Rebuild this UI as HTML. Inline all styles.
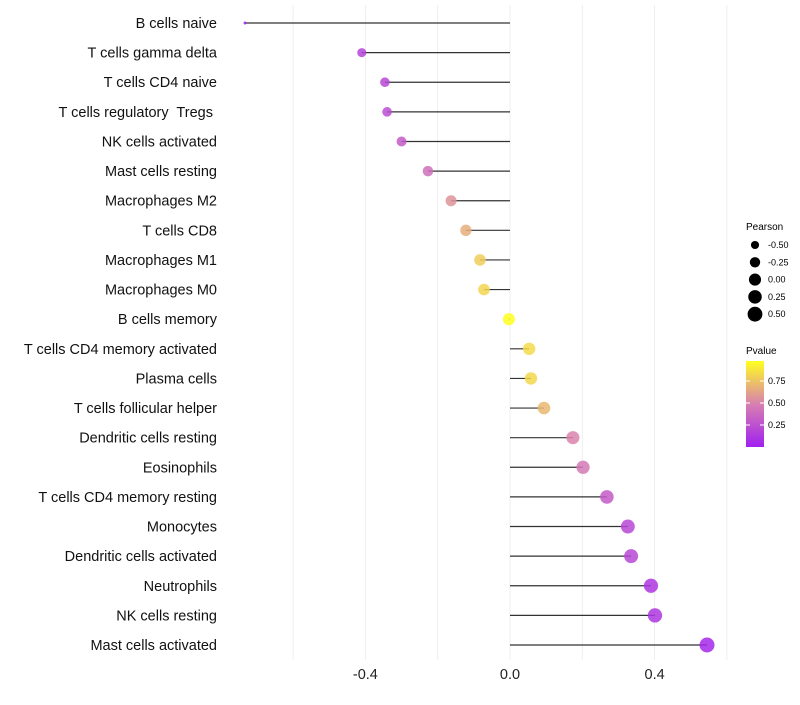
<!DOCTYPE html>
<html><head><meta charset="utf-8"><style>
body{margin:0;background:#fff;font-family:"Liberation Sans",sans-serif}
text{white-space:pre}
</style></head><body>
<svg id="chart" width="800" height="700" xmlns="http://www.w3.org/2000/svg">
<defs><linearGradient id="pg" x1="0" y1="1" x2="0" y2="0">
<stop offset="0" stop-color="#a020f0"/><stop offset="0.5" stop-color="#d880b0"/><stop offset="1" stop-color="#ffff20"/>
</linearGradient></defs>
<g id="grid"></g>
<g id="marks"></g>
<g id="labels"></g>
<g id="xt"></g>
<g font-size="9">
<text x="746" y="230" font-size="10">Pearson</text>
<g id="sizeLeg"></g>
</g>
<g font-size="9">
<text x="746" y="354" font-size="10">Pvalue</text>
<rect x="746" y="361" width="18" height="86" fill="url(#pg)"/>
<line x1="746" x2="750" y1="381" y2="381" stroke="#fff"/><line x1="760" x2="764" y1="381" y2="381" stroke="#fff"/>
<line x1="746" x2="750" y1="403" y2="403" stroke="#fff"/><line x1="760" x2="764" y1="403" y2="403" stroke="#fff"/>
<line x1="746" x2="750" y1="425" y2="425" stroke="#fff"/><line x1="760" x2="764" y1="425" y2="425" stroke="#fff"/>
<text x="768" y="384">0.75</text><text x="768" y="406">0.50</text><text x="768" y="428">0.25</text>
</g>
</svg>
<script>
const categories=["B cells naive","T cells gamma delta","T cells CD4 naive","T cells regulatory  Tregs ","NK cells activated","Mast cells resting","Macrophages M2","T cells CD8","Macrophages M1","Macrophages M0","B cells memory","T cells CD4 memory activated","Plasma cells","T cells follicular helper","Dendritic cells resting","Eosinophils","T cells CD4 memory resting","Monocytes","Dendritic cells activated","Neutrophils","NK cells resting","Mast cells activated"];
const pearson=[-0.733,-0.41,-0.346,-0.34,-0.30,-0.227,-0.163,-0.122,-0.083,-0.072,-0.003,0.053,0.058,0.094,0.174,0.202,0.268,0.326,0.335,0.39,0.401,0.545];
const pvalue=[0.04,0.2,0.22,0.25,0.32,0.42,0.58,0.68,0.8,0.83,0.99,0.85,0.84,0.72,0.52,0.47,0.32,0.22,0.22,0.13,0.13,0.06];
const xTicks=[-0.4,0.0,0.4];
const xTickLabels=["-0.4","0.0","0.4"];
const sizeLegendVals=[-0.5,-0.25,0,0.25,0.5];
const sizeLegendLabels=["-0.50","-0.25","0.00","0.25","0.50"];
const NS="http://www.w3.org/2000/svg";
const x=v=>510+v*361.5;
const y=i=>23+i*(645-23)/(categories.length-1);
const mn=Math.min(...pearson),mx=Math.max(...pearson);
const r=v=>1.5+6*Math.sqrt(Math.max(0,(v-mn)/(mx-mn)));
function lerp(a,b,t){return Math.round(a+(b-a)*t);}
function col(p){const t=Math.max(0,Math.min(1,(p-0.02)/0.97));
const c0=[160,32,240],c1=[216,128,176],c2=[255,255,32];
let a,b,u;if(t<0.5){a=c0;b=c1;u=t/0.5}else{a=c1;b=c2;u=(t-0.5)/0.5}
return `rgb(${lerp(a[0],b[0],u)},${lerp(a[1],b[1],u)},${lerp(a[2],b[2],u)})`;}
function mk(tag,at,parent){const e=document.createElementNS(NS,tag);for(const k in at)e.setAttribute(k,at[k]);parent.appendChild(e);return e;}
const grid=document.getElementById('grid');
[-0.6,-0.4,-0.2,0,0.2,0.4,0.6].forEach(v=>{const l=mk('line',{x1:x(v),x2:x(v),y1:5,y2:660,stroke:'#ebebeb','stroke-width':0.8},grid);

});
const marks=document.getElementById('marks'),labels=document.getElementById('labels');
categories.forEach((c,i)=>{
const l=mk('line',{x1:x(0),x2:x(pearson[i]),y1:y(i),y2:y(i),stroke:'#333','stroke-width':1.2},marks);


const d=mk('circle',{cx:x(pearson[i]),cy:y(i),r:r(pearson[i]),fill:col(pvalue[i]),'fill-opacity':0.85},marks);


const t=mk('text',{x:217,y:y(i)+5,'text-anchor':'end','font-size':14.5,fill:'#111'},labels);
t.textContent=c;


});
const xt=document.getElementById('xt');
xTicks.forEach((v,i)=>{const t=mk('text',{x:x(v),y:679,'text-anchor':'middle','font-size':14.5,fill:'#222'},xt);
t.textContent=xTickLabels[i];

});
const sl=document.getElementById('sizeLeg');
sizeLegendVals.forEach((v,i)=>{const cy=245+i*17.3;
const c=mk('circle',{cx:755,cy:cy,r:r(v),fill:'#000'},sl);


const t=mk('text',{x:768,y:cy+3},sl);t.textContent=sizeLegendLabels[i];

});
</script>
</body></html>
